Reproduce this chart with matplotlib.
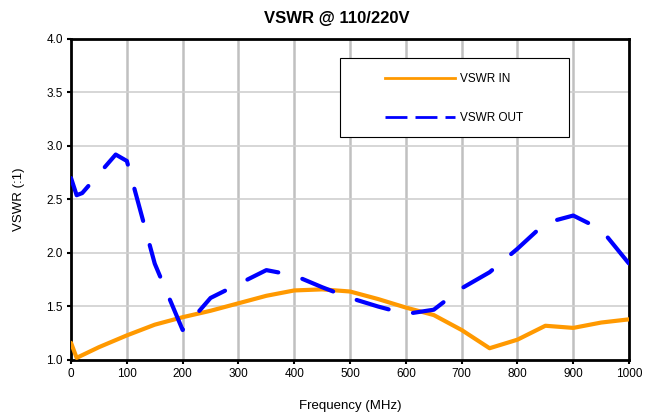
import matplotlib.pyplot as plt
from matplotlib.lines import Line2D
from matplotlib.patches import Rectangle

plt.rcParams['font.family'] = ['Liberation Sans', 'DejaVu Sans']

# datos
freq_in = [0, 10, 50, 100, 150, 200, 250, 300, 350, 400, 450, 500, 550, 600,
           650, 700, 750, 800, 850, 900, 950, 1000]
vswr_in = [1.16, 1.02, 1.12, 1.23, 1.33, 1.40, 1.46, 1.53, 1.60, 1.65, 1.66, 1.64,
           1.57, 1.49, 1.42, 1.28, 1.11, 1.19, 1.32, 1.30, 1.35, 1.38]

freq_out = [0, 10, 20, 80, 100, 150, 200, 250, 300, 350, 400, 450, 500, 550, 600,
            650, 700, 750, 800, 850, 900, 950, 1000]
vswr_out = [2.70, 2.54, 2.56, 2.92, 2.86, 1.90, 1.28, 1.58, 1.71, 1.84, 1.79, 1.68,
            1.58, 1.50, 1.43, 1.47, 1.67, 1.82, 2.04, 2.28, 2.35, 2.22, 1.90]

x_ticks = list(range(0, 1001, 100))
y_ticks = [1.0, 1.5, 2.0, 2.5, 3.0, 3.5, 4.0]

fig = plt.figure(figsize=(6.46, 4.17), dpi=100)
ax = fig.add_axes([0.110, 0.1367, 0.8638, 0.7698])

ax.plot(freq_in, vswr_in, color='#FF9900', lw=3, solid_capstyle='round',
        solid_joinstyle='round', zorder=3)
ax.plot(freq_out, vswr_out, color='#0000FF', lw=3, linestyle=(0, (8, 6)),
        dash_capstyle='round', dash_joinstyle='round', zorder=3)

ax.set_xlim(0, 1000)
ax.set_ylim(1.0, 4.0)
ax.set_xticks(x_ticks)
ax.set_yticks(y_ticks)
ax.set_yticklabels([f'{v:.1f}' for v in y_ticks])
ax.tick_params(labelsize=8.5, direction='out', length=3, width=1.5, pad=3)

for x in x_ticks[1:-1]:
    ax.axvline(x, color='#C0C0C0', lw=1.8, zorder=1)
for y in y_ticks[1:-1]:
    ax.axhline(y, color='#D0D0D0', lw=1.2, zorder=1)

for s in ax.spines.values():
    s.set_linewidth(2)
    s.set_color('black')

ax.set_xlabel('Frequency (MHz)', fontsize=9.5, labelpad=14)
ax.set_ylabel('VSWR (:1)', fontsize=9.5, labelpad=15)
fig.text(0.522, 0.955, 'VSWR @ 110/220V', fontsize=12, fontweight='bold',
         ha='center', va='center')

# recuadro de la leyenda
ax.add_patch(Rectangle((0.482, 0.695), 0.41, 0.246, transform=ax.transAxes,
                       facecolor='white', edgecolor='black', lw=0.8, zorder=4))
handles = [Line2D([], [], color='#FF9900', lw=2),
           Line2D([], [], color='#0000FF', lw=2, linestyle=(0, (7.9, 2.9)))]
leg = ax.legend(handles, ['VSWR IN', 'VSWR OUT'], loc='upper left',
                bbox_to_anchor=(0.563, 0.895), frameon=False,
                fontsize=8.5, handlelength=5.9, labelspacing=2.3, handletextpad=0.45,
                borderpad=0, borderaxespad=0)
leg.set_zorder(5)

plt.savefig('out.png', dpi=100)
